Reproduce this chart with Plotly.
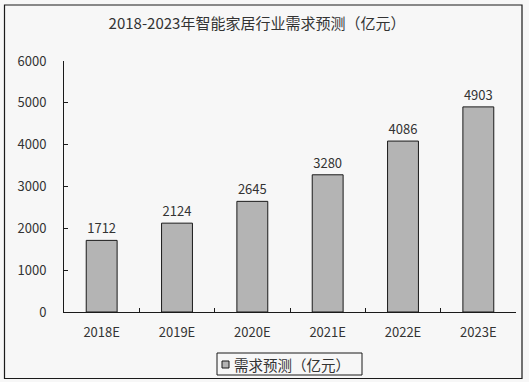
import plotly.graph_objects as go

categories = ["2018E", "2019E", "2020E", "2021E", "2022E", "2023E"]
values = [1712, 2124, 2645, 3280, 4086, 4903]
y_ticks = [0, 1000, 2000, 3000, 4000, 5000, 6000]
title_text = "2018-2023年智能家居行业需求预测（亿元）"
series_name = "需求预测（亿元）"

W, H = 529, 382
L, R, T, B = 64, 13, 61, 70
pw, ph = W - L - R, H - T - B

def px_x(x):
    return (x - L) / pw

def px_y(y):
    return (H - B - y) / ph

font_family = "SimSun, 'Noto Sans CJK SC', sans-serif"
bg = "#f7f7f7"
txt = "#333333"
bar_color = "#b4b4b4"
edge = "#1a1a1a"

fig = go.Figure()
fig.add_trace(go.Bar(
    x=categories, y=values, name=series_name,
    marker=dict(color=bar_color, line=dict(color=edge, width=1)),
    width=0.41,
    text=[str(v) for v in values], textposition="outside",
    textfont=dict(size=13, color=txt, family=font_family),
    cliponaxis=False, showlegend=False,
))

shapes = [
    # outer frame
    dict(type="rect", xref="paper", yref="paper",
         x0=px_x(4.5), x1=px_x(522), y0=px_y(378.5), y1=px_y(5),
         line=dict(color=edge, width=1.2), fillcolor="rgba(0,0,0,0)", layer="above"),
    # legend box
    dict(type="rect", xref="paper", yref="paper",
         x0=px_x(217), x1=px_x(362), y0=px_y(375), y1=px_y(353),
         line=dict(color=edge, width=1), fillcolor=bg, layer="above"),
    # legend swatch
    dict(type="rect", xref="paper", yref="paper",
         x0=px_x(222), x1=px_x(229), y0=px_y(368), y1=px_y(361),
         line=dict(color=edge, width=1), fillcolor=bar_color, layer="above"),
]

annotations = [
    dict(text=series_name, xref="paper", yref="paper", x=px_x(232), y=px_y(364.5),
         xanchor="left", yanchor="middle", showarrow=False,
         font=dict(size=14.5, color=txt, family=font_family)),
]

fig.update_layout(
    width=W, height=H,
    margin=dict(l=L, r=R, t=T, b=B, autoexpand=False),
    paper_bgcolor=bg, plot_bgcolor=bg,
    font=dict(family=font_family, color=txt, size=13),
    title=dict(text=title_text, x=257 / W, xref="container", xanchor="center",
               y=1 - 24 / H, yref="container", yanchor="middle",
               font=dict(size=15, color=txt, family=font_family)),
    showlegend=False,
    bargap=0.59,
    xaxis=dict(showline=True, linecolor=edge, linewidth=1, ticks="inside",
               tickson="boundaries", ticklen=4, tickcolor=edge,
               showgrid=False, ticklabelstandoff=8, tickfont=dict(size=13, color=txt)),
    yaxis=dict(range=[0, 6000], tickvals=y_ticks, showline=True, linecolor=edge,
               linewidth=1, ticks="inside", ticklen=4, tickcolor=edge,
               showgrid=False, zeroline=False, ticklabelstandoff=14,
               tickfont=dict(size=13, color=txt)),
    shapes=shapes,
    annotations=annotations,
)

fig.write_html("out.html")
